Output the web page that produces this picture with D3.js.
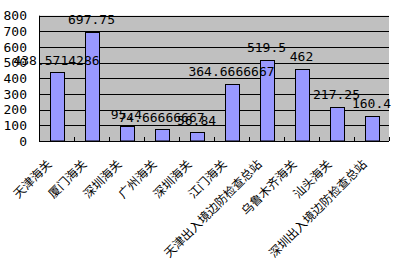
<!DOCTYPE html>
<html>
<head>
<meta charset="utf-8">
<script src="https://cdn.jsdelivr.net/npm/d3@7"></script>
<style>
  html, body { margin: 0; padding: 0; background: #fff; }
  svg { display: block; }
</style>
</head>
<body>
<div id="chart"></div>
<script>
// categories and values
const categories = [
  "天津海关", "厦门海关", "深圳海关", "广州海关", "深圳海关",
  "江门海关", "天津出入境边防检查总站", "乌鲁木齐海关", "汕头海关", "深圳出入境边防检查总站"
];
const values = [438.5714286, 697.75, 95.4, 74.66666667, 56.84, 364.6666667, 519.5, 462, 217.25, 160.4];
const labels = ["438.5714286", "697.75", "95.4", "74.66666667", "56.84", "364.6666667", "519.5", "462", "217.25", "160.4"];
const yTicks = [0, 100, 200, 300, 400, 500, 600, 700, 800];

const width = 400, height = 264;
const plot = { left: 39, right: 389, top: 15.7, bottom: 141 };

const svg = d3.select("#chart").append("svg")
  .attr("width", width)
  .attr("height", height);

const x = d3.scaleBand()
  .domain(d3.range(categories.length))
  .range([plot.left, plot.right])
  .paddingInner(0.6)
  .paddingOuter(0.3);

// band boundaries for the tick marks
const step = (plot.right - plot.left) / categories.length;

const y = d3.scaleLinear().domain([0, 800]).range([plot.bottom, plot.top]);

// plot background
svg.append("rect")
  .attr("x", plot.left).attr("y", plot.top)
  .attr("width", plot.right - plot.left)
  .attr("height", plot.bottom - plot.top)
  .attr("fill", "#c0c0c0");

// gridlines
svg.append("g")
  .selectAll("line")
  .data(yTicks.slice(1))
  .join("line")
  .attr("x1", plot.left).attr("x2", plot.right)
  .attr("y1", (d) => Math.round(y(d)) + 0.5)
  .attr("y2", (d) => Math.round(y(d)) + 0.5)
  .attr("stroke", "#000")
  .attr("stroke-width", 1);

// bars
svg.append("g")
  .selectAll("rect")
  .data(values)
  .join("rect")
  .attr("x", (d, i) => Math.round(x(i)) + 0.5)
  .attr("y", (d) => Math.round(y(d)) + 0.5)
  .attr("width", x.bandwidth())
  .attr("height", (d) => plot.bottom - Math.round(y(d)) - 0.5)
  .attr("fill", "#9999ff")
  .attr("stroke", "#000")
  .attr("stroke-width", 1);

// axes lines
svg.append("line")
  .attr("x1", plot.left + 0.5).attr("x2", plot.left + 0.5)
  .attr("y1", plot.top).attr("y2", plot.bottom)
  .attr("stroke", "#000");
svg.append("line")
  .attr("x1", plot.left).attr("x2", plot.right)
  .attr("y1", plot.bottom + 0.5).attr("y2", plot.bottom + 0.5)
  .attr("stroke", "#000");

// x tick marks at the band edges, pointing up into the plot
svg.append("g")
  .selectAll("line")
  .data(d3.range(1, categories.length + 1))
  .join("line")
  .attr("x1", (i) => Math.round(plot.left + i * step) + 0.5)
  .attr("x2", (i) => Math.round(plot.left + i * step) + 0.5)
  .attr("y1", plot.bottom)
  .attr("y2", plot.bottom - 4)
  .attr("stroke", "#000");

// y tick labels
svg.append("g")
  .selectAll("text")
  .data(yTicks)
  .join("text")
  .attr("x", 27)
  .attr("y", (d) => y(d))
  .attr("dy", "0.35em")
  .attr("text-anchor", "end")
  .attr("font-family", "DejaVu Sans Mono, monospace")
  .attr("font-size", 13)
  .text((d) => d);

// value labels over bars
svg.append("g")
  .selectAll("text")
  .data(values)
  .join("text")
  .attr("x", (d, i) => x(i) + x.bandwidth() / 2)
  .attr("y", (d) => y(d) - 7.5)
  .attr("text-anchor", "middle")
  .attr("font-family", "DejaVu Sans Mono, monospace")
  .attr("font-size", 13)
  .text((d, i) => labels[i]);

// rotated category labels
svg.append("g")
  .selectAll("text")
  .data(categories)
  .join("text")
  .attr("transform", (d, i) => {
    let cx = x(i) + x.bandwidth() / 2 - 4;
    return `translate(${cx},165) rotate(-45)`;
  })
  .attr("text-anchor", "end")
  .attr("font-family", "Noto Sans CJK SC, sans-serif")
  .attr("font-size", 12)
  .text((d) => d);
</script>
</body>
</html>
